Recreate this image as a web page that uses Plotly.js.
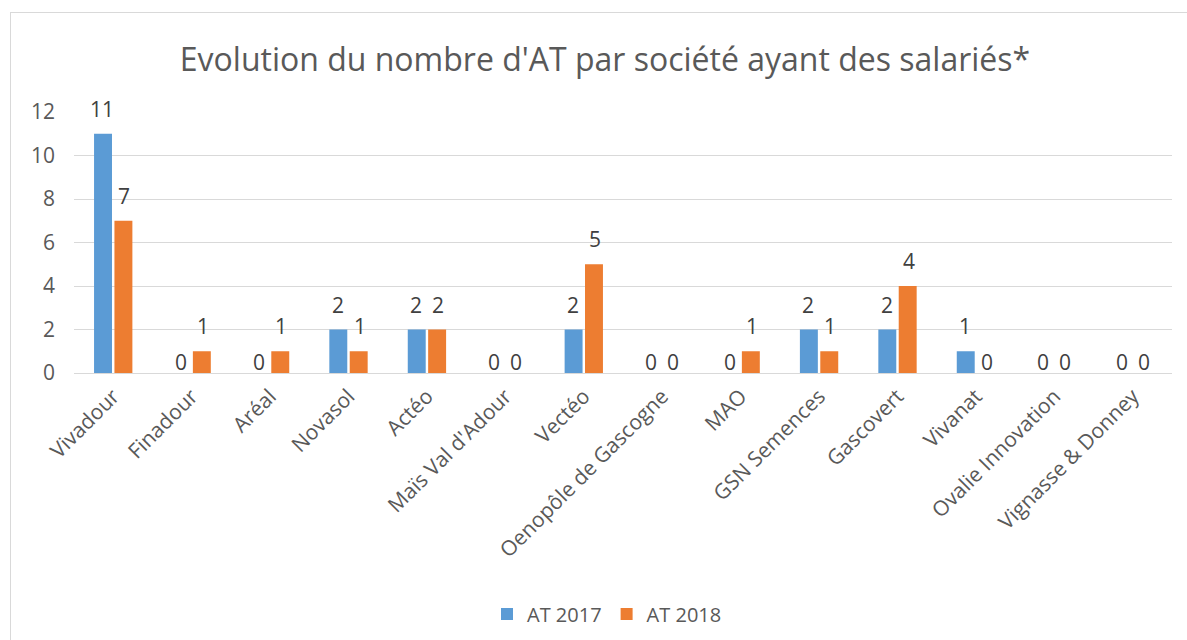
<!DOCTYPE html>
<html>
<head>
<meta charset="utf-8">
<script src="https://cdn.plot.ly/plotly-3.0.1.min.js"></script>
<style>
  html, body { margin: 0; padding: 0; background: #fff; }
  #chart { position: absolute; left: 0; top: 0; width: 1187px; height: 640px; }
  #frame { position: absolute; left: 10px; top: 12px; width: 1190px; height: 640px; border: 1px solid #d9d9d9; pointer-events: none; }
</style>
</head>
<body>
<div id="chart"></div>
<div id="frame"></div>
<script>
const categories = ["Vivadour", "Finadour", "Aréal", "Novasol", "Actéo", "Maïs Val d'Adour", "Vectéo", "Oenopôle de Gascogne", "MAO", "GSN Semences", "Gascovert", "Vivanat", "Ovalie Innovation", "Vignasse & Donney"];
const at2017 = [11, 0, 0, 2, 2, 0, 2, 0, 0, 2, 2, 1, 0, 0];
const at2018 = [7, 1, 1, 1, 2, 0, 5, 0, 1, 1, 4, 0, 0, 0];
const seriesNames = ["AT 2017", "AT 2018"];
const colors = ["#5B9BD5", "#ED7D31"];
const yTicks = [0, 2, 4, 6, 8, 10, 12];

const FONT = "'Open Sans', sans-serif";
const TXT = "#595959";

const traces = [at2017, at2018].map((vals, i) => ({
  type: "bar",
  name: seriesNames[i],
  x: categories,
  y: vals,
  marker: { color: colors[i] },
  hoverinfo: "skip"
}));

const annotations = [];
[at2017, at2018].forEach((vals, i) => {
  vals.forEach((v, j) => {
    annotations.push({
      x: categories[j], y: v, xref: "x", yref: "y",
      text: String(v), showarrow: false,
      xshift: i === 0 ? -11 : 11,
      yshift: v === 0 ? 11 : 25,
      yanchor: "middle",
      font: { family: FONT, size: 21, color: "#404040" }
    });
  });
});

const layout = {
  width: 1187, height: 640,
  margin: { l: 74, r: 15, t: 112, b: 267 },
  paper_bgcolor: "#fff", plot_bgcolor: "#fff",
  font: { family: FONT, color: TXT },
  title: {
    text: "Evolution du nombre d'AT par société ayant des salariés*",
    font: { family: FONT, size: 32, color: TXT },
    x: 605/1187, xanchor: "center", y: 1 - 60/640, yanchor: "middle", yref: "container", xref: "container"
  },
  barmode: "group",
  bargap: 0.48,
  bargroupgap: 0.12,
  xaxis: {
    type: "category",
    tickangle: -45,
    tickfont: { family: FONT, size: 21, color: TXT },
    showgrid: false,
    showline: false,
    ticks: "",
    ticklabelstandoff: 6
  },
  yaxis: {
    range: [0, 12],
    tickvals: yTicks,
    ticktext: yTicks.map(String),
    tickfont: { family: FONT, size: 21, color: TXT },
    showgrid: true, gridcolor: "#d9d9d9", gridwidth: 1,
    zeroline: true, zerolinecolor: "#d9d9d9", zerolinewidth: 1,
    showline: false, ticks: "",
    ticklabelstandoff: 18,
    fixedrange: true
  },
  showlegend: true,
  legend: {
    orientation: "h",
    x: 607/1187, xref: "container", xanchor: "center",
    y: 1 - 614/640, yref: "container", yanchor: "middle",
    font: { family: FONT, size: 20, color: TXT },
    itemwidth: 30
  },
  annotations: annotations
};

Plotly.newPlot("chart", traces, layout, { displayModeBar: false, staticPlot: true });
</script>
</body>
</html>
